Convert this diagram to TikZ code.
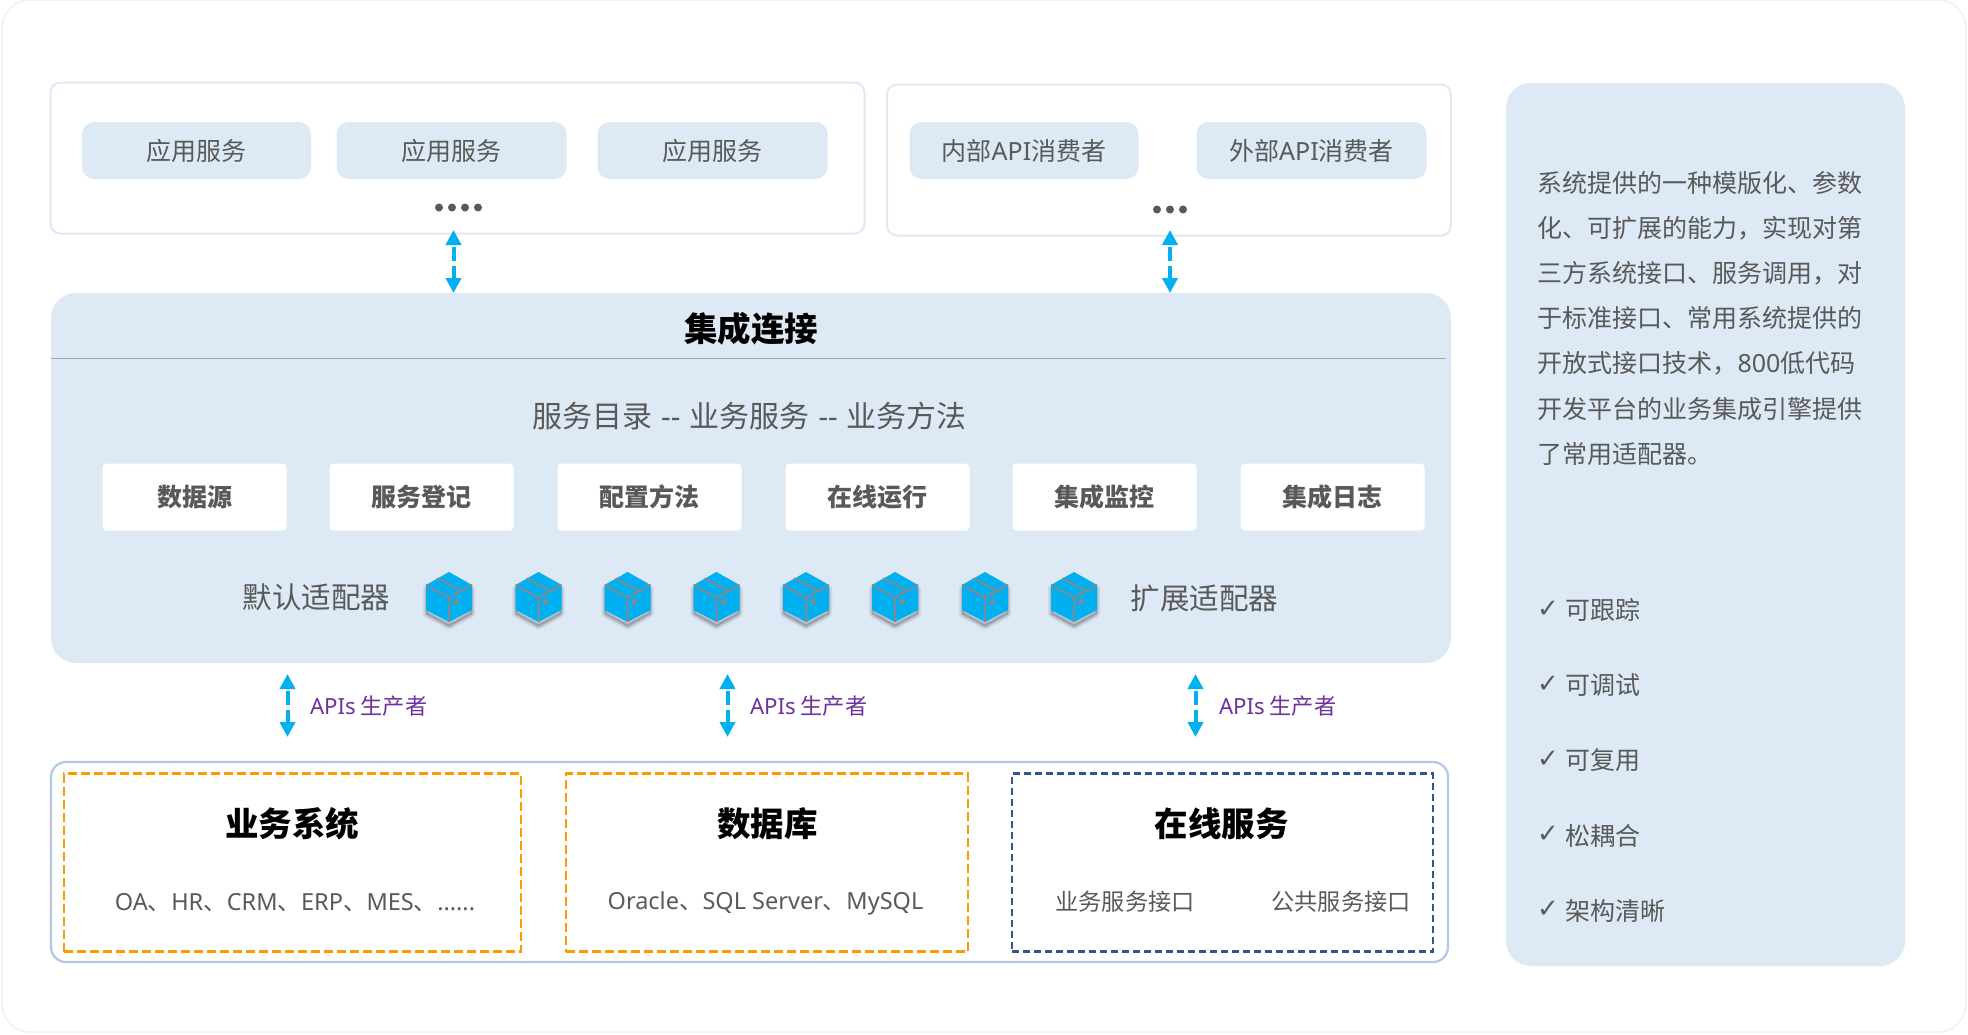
\documentclass[tikz,border=0pt]{standalone}
\usepackage{fontspec}
\setmainfont{Noto Sans CJK SC}
\newfontfamily\latinf{Noto Sans}
\newfontfamily\symf{DejaVu Sans}
\usetikzlibrary{arrows.meta}
\definecolor{panelblue}{HTML}{DDE9F5}
\definecolor{textgray}{HTML}{595959}
\definecolor{cyanline}{HTML}{00B0F0}
\definecolor{apipurple}{HTML}{7030A0}
\definecolor{orangedash}{HTML}{FF9900}
\definecolor{navydash}{HTML}{2F5597}
\definecolor{bottomline}{HTML}{B4C7E7}
\definecolor{topline}{HTML}{DEE9F5}
\definecolor{cardline}{HTML}{F2F2F2}
\definecolor{strapgray}{HTML}{7F8A93}
\definecolor{ruleline}{HTML}{A6A6A6}
\newcommand{\fs}[1]{\fontsize{#1}{#1}\selectfont}
\newcommand{\la}[1]{{\latinf #1}}
\newcommand{\dn}[1]{\raisebox{-2.4pt}{#1}}
\tikzset{
  x=1pt,y=-1pt,
  every node/.style={inner sep=0pt,outer sep=0pt,text=textgray},
  card/.style={draw=cardline,line width=1.5pt,fill=white,rounded corners=28pt},
  topbox/.style={draw=topline,line width=2pt,fill=white,rounded corners=10pt},
  appbox/.style={fill=panelblue,rounded corners=12pt,font=\fs{25}},
  panel/.style={fill=panelblue,rounded corners=25pt},
  whitebox/.style={fill=white,rounded corners=4pt,font=\fs{25}\bfseries},
  bottombox/.style={draw=bottomline,line width=2.2pt,fill=white,rounded corners=15pt},
  orangebox/.style={draw=orangedash,line width=2.4pt,dash pattern=on 9pt off 4pt,fill=white},
  navybox/.style={draw=navydash,line width=2.2pt,dash pattern=on 7pt off 4pt,fill=white},
  bigtitle/.style={font=\fs{33.5}\bfseries,text=black},
  subtitle/.style={font=\fs{30}},
  adapt/.style={font=\fs{29.5}},
  apilabel/.style={font=\fs{22.2},text=apipurple,anchor=west},
  sub/.style={font=\fs{23.5}},
  sidelist/.style={font=\fs{25},anchor=west},
  tick/.style={font=\symf\fs{26},anchor=center,text=textgray},
  conn/.style={draw=cyanline,line width=4pt,dash pattern=on 14pt off 5pt,dash phase=16pt,
    {Triangle[length=15pt,width=15pt]}-{Triangle[length=15pt,width=15pt]}},
  dot/.style={fill=textgray,draw=none},
}
\newcommand{\cube}[2]{%
  \begin{scope}[shift={(#1,#2)}]
    \foreach \w/\o in {9/.03,7/.05,5/.07,3/.09,1.5/.11}{
      \draw[black,opacity=\o,line width=\w pt,line join=round]
        (0,-20) -- (22,-8) -- (22,16.5) -- (0,28.5) -- (-22,16.5) -- (-22,-8) -- cycle;
    }
    \fill[cyanline] (0,-25) -- (23,-12) -- (23,13) -- (0,25) -- (-23,13) -- (-23,-12) -- cycle;
    \draw[strapgray,line width=2pt] (-23,-12) -- (0,0.7) -- (23,-12) (0,0.7) -- (0,25);
    \draw[strapgray,line width=2pt] (-12,-18.6) -- (12,-6.3);
    \fill[strapgray] (4.7,3.5) -- (9.7,1) -- (9.7,6) -- (4.7,8.5) -- cycle;
  \end{scope}}
\begin{document}
\begin{tikzpicture}
\useasboundingbox (0,0) rectangle (1968,1034);
\node[card,minimum width=1964,minimum height=1032] (card) at (984,516) {};

% top left
\node[topbox,minimum width=814,minimum height=151] (appsgroup) at (457.5,158) {};
\node[appbox,minimum width=229,minimum height=57] (app1) at (196.5,150.5) {\dn{应用服务}};
\node[appbox,minimum width=230,minimum height=57] (app2) at (451.5,150.5) {\dn{应用服务}};
\node[appbox,minimum width=230,minimum height=57] (app3) at (712.5,150.5) {\dn{应用服务}};
\foreach \xx in {439,452,465,478}{\fill[dot] (\xx,207.5) circle (4pt);}

% top right
\node[topbox,minimum width=564,minimum height=151] (apigroup) at (1169,160) {};
\node[appbox,minimum width=229,minimum height=57] (con1) at (1024,150.5) {\dn{内部\la{API}消费者}};
\node[appbox,minimum width=230,minimum height=57] (con2) at (1311.5,150.5) {\dn{外部\la{API}消费者}};
\foreach \xx in {1157,1170,1183}{\fill[dot] (\xx,209.5) circle (4pt);}

% main panel
\node[panel,minimum width=1400,minimum height=370] (panel) at (751,478) {};
\draw[color=ruleline,line width=1pt] (panel.west |- 0,358) coordinate (ruleL) -- (1446,358) coordinate (ruleR);
\node[bigtitle] (title) at (751,329) {集成连接};
\node[subtitle] (subt) at (749.5,416) {服务目录\hspace{9pt}\la{--}\hspace{9pt}业务服务\hspace{9pt}\la{--}\hspace{9pt}业务方法};
\node[whitebox,minimum width=184,minimum height=67] (w1) at (194.5,497) {\dn{数据源}};
\node[whitebox,minimum width=184,minimum height=67] (w2) at (421.5,497) {\dn{服务登记}};
\node[whitebox,minimum width=184,minimum height=67] (w3) at (649.5,497) {\dn{配置方法}};
\node[whitebox,minimum width=184,minimum height=67] (w4) at (877.5,497) {\dn{在线运行}};
\node[whitebox,minimum width=184,minimum height=67] (w5) at (1104.5,497) {\dn{集成监控}};
\node[whitebox,minimum width=184,minimum height=67] (w6) at (1332.5,497) {\dn{集成日志}};
\node[adapt] (defa) at (316.5,597) {默认适配器};
\node[adapt] (exta) at (1204.5,598) {扩展适配器};
\cube{449}{597}\cube{538.5}{597}\cube{627.5}{597}\cube{716.5}{597}
\cube{806}{597}\cube{895}{597}\cube{985}{597}\cube{1074}{597}

% connectors top
\coordinate (u1) at (453.5,230);
\coordinate (u2) at (1170,230);
\draw[conn] (u1) -- (u1 |- panel.north);
\draw[conn] (u2) -- (u2 |- panel.north);

% API connectors
\coordinate (p1t) at (287.5,674); \coordinate (p1b) at (287.5,737);
\coordinate (p2t) at (727.5,674); \coordinate (p2b) at (727.5,737);
\coordinate (p3t) at (1195.5,674); \coordinate (p3b) at (1195.5,737);
\draw[conn] (p1t) -- (p1b);
\draw[conn] (p2t) -- (p2b);
\draw[conn] (p3t) -- (p3b);
\node[apilabel] (l1) at (310,706) {\la{APIs} 生产者};
\node[apilabel] (l2) at (750,706) {\la{APIs} 生产者};
\node[apilabel] (l3) at (1219,706) {\la{APIs} 生产者};

% bottom
\node[bottombox,minimum width=1397,minimum height=200] (bottom) at (749.5,862) {};
\node[orangebox,minimum width=457,minimum height=178] (biz) at (292.5,862.5) {};
\node[orangebox,minimum width=402,minimum height=178] (db) at (767,862.5) {};
\node[navybox,minimum width=421,minimum height=178] (svc) at (1222.5,862.5) {};
\node[bigtitle] (bizt) at (292,824) {业务系统};
\node[bigtitle] (dbt) at (767.5,824) {数据库};
\node[bigtitle] (svct) at (1221.5,824) {在线服务};
\node[sub] (bizs) at (295,902.5) {\la{OA}、\la{HR}、\la{CRM}、\la{ERP}、\la{MES}、\la{......}};
\node[sub] (dbs) at (765.5,903) {\la{Oracle}、\la{SQL Server}、\la{MySQL}};
\node[sub,font=\fs{23.2}] (svc1) at (1125,901.5) {业务服务接口};
\node[sub,font=\fs{23.2}] (svc2) at (1341,901.5) {公共服务接口};

% right panel
\node[panel,minimum width=399,minimum height=883] (side) at (1705.5,524.5) {};
\node[anchor=west,align=left,font=\fontsize{25}{45.2}\selectfont] (desc) at (1537.5,318.2) {系统提供的一种模版化、参数\\化、可扩展的能力，实现对第\\三方系统接口、服务调用，对\\于标准接口、常用系统提供的\\开放式接口技术，\la{800}低代码\\开发平台的业务集成引擎提供\\了常用适配器。};
\node[tick] (t1) at (1548,609) {✓};
\node[tick] (t2) at (1548,684) {✓};
\node[tick] (t3) at (1548,759) {✓};
\node[tick] (t4) at (1548,834) {✓};
\node[tick] (t5) at (1548,909) {✓};
\node[sidelist] (s1) at (1565.5,610) {可跟踪};
\node[sidelist] (s2) at (1565.5,685) {可调试};
\node[sidelist] (s3) at (1565.5,760) {可复用};
\node[sidelist] (s4) at (1565.5,835.5) {松耦合};
\node[sidelist] (s5) at (1565.5,910.5) {架构清晰};
\end{tikzpicture}
\end{document}
